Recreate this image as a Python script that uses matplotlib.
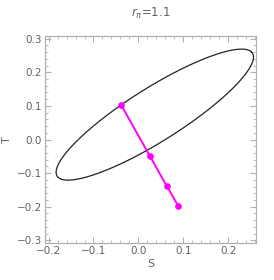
import numpy as np
import matplotlib.pyplot as plt
from matplotlib.ticker import MultipleLocator

# ellipse (centre, semi axes, tilt in degrees)
ell_center = (0.0366, 0.074)
ell_axes = (0.285, 0.0717)
ell_angle = 41.1

# magenta path points
path_S = [-0.038, 0.025, 0.063, 0.089]
path_T = [0.102, -0.048, -0.138, -0.198]

x_ticks = [-0.2, -0.1, 0.0, 0.1, 0.2]
y_ticks = [-0.3, -0.2, -0.1, 0.0, 0.1, 0.2, 0.3]

frame_col = '#b0b0b0'
text_col = '#606060'

fig = plt.figure(figsize=(2.74, 2.80), dpi=100)
ax = fig.add_axes([45 / 274, 1 - 243 / 280, 211 / 274, 207 / 280])

t = np.linspace(0, 2 * np.pi, 400)
th = np.radians(ell_angle)
a, b = ell_axes
ex = ell_center[0] + a * np.cos(t) * np.cos(th) - b * np.sin(t) * np.sin(th)
ey = ell_center[1] + a * np.cos(t) * np.sin(th) + b * np.sin(t) * np.cos(th)
ax.plot(ex, ey, color='#222222', lw=0.9)

ax.plot(path_S, path_T, color='#ff00ff', lw=1.4, marker='o', ms=3.8)

ax.set_xlim(-0.208, 0.262)
ax.set_ylim(-0.308, 0.308)
ax.set_xticks(x_ticks)
ax.set_xticklabels(['\u22120.2', '\u22120.1', '0.0', '0.1', '0.2'])
ax.set_yticks(y_ticks)
ax.set_yticklabels(['\u22120.3', '\u22120.2', '\u22120.1', '0.0', '0.1', '0.2', '0.3'])
ax.xaxis.set_minor_locator(MultipleLocator(0.02))
ax.yaxis.set_minor_locator(MultipleLocator(0.02))

for s in ax.spines.values():
    s.set_color(frame_col)
    s.set_linewidth(0.9)
ax.tick_params(which='both', direction='in', top=True, right=True, color=frame_col,
               labelcolor=text_col, labelsize=7.5, pad=2)
ax.tick_params(which='major', length=4, width=0.8)
ax.tick_params(which='minor', length=2, width=0.6)

ax.set_xlabel('S', color=text_col, fontsize=8, labelpad=2)
ax.set_ylabel('T', color=text_col, fontsize=8)
ax.yaxis.set_label_coords(-0.155, 0.5)
ax.set_title(r'$r_{\pi}$=1.1', color=text_col, fontsize=8.5, pad=14)

fig.savefig('out.png', dpi=100)
